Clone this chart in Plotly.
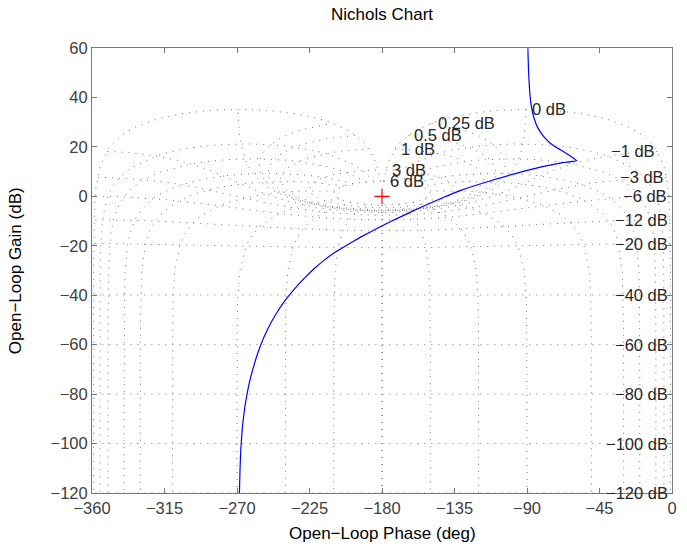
import numpy as np
import plotly.graph_objects as go

# ---- Open-loop frequency response ----
ol_phase = [-89.5, -89.0, -88.3, -87.2, -85.8, -83.5, -80.0, -75.5, -71.0, -66.0,
            -62.0, -59.2,
            -67.9, -90.5, -111.0, -131.5, -142.0, -152.0, -162.3, -174.6, -182.0,
            -193.0, -205.0, -210.0, -216.0, -222.0, -228.0, -234.0, -240.0,
            -245.8, -251.0, -255.4, -258.6, -261.7, -263.6, -265.2, -266.6,
            -267.6, -268.1, -268.5]
ol_gain = [60.0, 50.0, 42.0, 36.0, 32.0, 28.0, 24.5, 21.5, 19.5, 17.5,
           15.8, 14.4,
           13.6, 10.4, 6.6, 2.3, -0.5, -3.3, -6.4, -10.2, -12.6,
           -16.4, -21.0, -23.0, -25.9, -29.2, -33.0, -37.2, -42.0,
           -47.6, -53.8, -60.3, -66.4, -73.6, -79.4, -85.5, -93.0,
           -102.0, -110.0, -120.0]

# ---- Nichols grid definition (closed-loop values) ----
cl_gain_levels = [6, 3, 1, 0.5, 0.25, 0, -1, -3, -6, -12, -20, -40, -60, -80, -100, -120]
cl_phase_levels = [1, 5, 10, 20, 30, 50, 90, 120, 150, 180]
isophase_gain_pts = [6, 3, 2, 1, 0.75, 0.5, 0.4, 0.3, 0.25, 0.2, 0.15, 0.1, 0.05, 0,
                     -0.05, -0.1, -0.15, -0.2, -0.25, -0.3, -0.4, -0.5, -0.75, -1,
                     -2, -3, -4, -5, -6, -9, -12, -16, -20, -30, -40, -50, -60,
                     -70, -80, -90, -100, -110, -120]
isogain_phase_pts = [1, 2, 3, 4, 5, 7.5, 10, 15, 20, 25, 30, 45, 60, 75, 90, 105,
                     120, 135, 150, 175, 180]

x_ticks = [-360, -315, -270, -225, -180, -135, -90, -45, 0]
y_ticks = [60, 40, 20, 0, -20, -40, -60, -80, -100, -120]


def to_open_loop(mag_db, ph_deg):
    z = 10 ** (np.asarray(mag_db, float) / 20) * np.exp(-1j * np.deg2rad(ph_deg))
    h = z / (1 - z)
    gain = 20 * np.log10(np.abs(h))
    phase = np.fmod(np.rad2deg(np.angle(h)) - 360, 360)
    return phase, gain


p2 = np.array(isogain_phase_pts + [360 - v for v in isogain_phase_pts[-2::-1]])
gx, gy = [], []
labels = []
for g in cl_gain_levels:
    ph, gn = to_open_loop(np.full(p2.shape, g), p2)
    gx += list(ph) + [None]
    gy += list(gn) + [None]
    labels.append((g, ph[0], gn[0]))

g1 = np.array(isophase_gain_pts, float)
for p in cl_phase_levels:
    ph, gn = to_open_loop(g1, np.full(g1.shape, p))
    gx += list(ph) + [None]
    gy += list(gn) + [None]
    gx += list(-360 - ph) + [None]
    gy += list(gn) + [None]

fig = go.Figure()
fig.add_trace(go.Scatter(x=gx, y=gy, mode="lines", hoverinfo="skip",
                         line=dict(color="rgb(115,115,115)", width=1, dash="1px,6px"),
                         showlegend=False, connectgaps=False))
fig.add_trace(go.Scatter(x=ol_phase, y=ol_gain, mode="lines",
                         line=dict(color="#0000ff", width=1.2, shape="spline", smoothing=0.3),
                         showlegend=False))
fig.add_trace(go.Scatter(x=[-180], y=[0], mode="markers",
                         marker=dict(symbol="cross-thin", size=11,
                                     line=dict(color="#ff0000", width=1.2)),
                         showlegend=False))

font_family = "Liberation Sans, Arial, Helvetica, sans-serif"
annotations = []
for g, ph, gn in labels:
    txt = ("%g" % g).replace("-", "\u2212") + " dB"
    annotations.append(dict(x=ph, y=gn, xref="x", yref="y", text=txt, showarrow=False,
                            xanchor="left" if g >= 0 else "right", yanchor="middle",
                            xshift=4 if g >= 0 else 0,
                            font=dict(family=font_family, size=16.5, color="#262626")))

annotations += [
    dict(text="Nichols Chart", x=0.5, y=1.0764, xref="paper", yref="paper", showarrow=False,
         xanchor="center", yanchor="middle", font=dict(family=font_family, size=17, color="#000")),
    dict(text="Open\u2212Loop Phase (deg)", x=0.5, y=-0.09, xref="paper", yref="paper",
         showarrow=False, xanchor="center", yanchor="middle",
         font=dict(family=font_family, size=17, color="#000")),
    dict(text="Open\u2212Loop Gain (dB)", x=-0.1316, y=0.5, xref="paper", yref="paper",
         showarrow=False, xanchor="center", yanchor="middle", textangle=-90,
         font=dict(family=font_family, size=17, color="#000")),
]

axis_common = dict(showgrid=False, zeroline=False, showline=True, mirror="ticks",
                   ticks="inside", ticklen=5, linecolor="#7a7a7a", tickcolor="#7a7a7a",
                   linewidth=1, tickfont=dict(family=font_family, size=16.5, color="#404040"))

fig.update_layout(
    width=687, height=551,
    margin=dict(l=92, r=10, t=48, b=58),
    paper_bgcolor="white", plot_bgcolor="white",
    xaxis=dict(range=[-360, 0], tickvals=x_ticks, **axis_common),
    yaxis=dict(range=[-120, 60], tickvals=y_ticks, **axis_common),
    annotations=annotations,
)

fig.write_html("out.html", config={"displayModeBar": False},
               post_script="document.body.style.margin='0';")
